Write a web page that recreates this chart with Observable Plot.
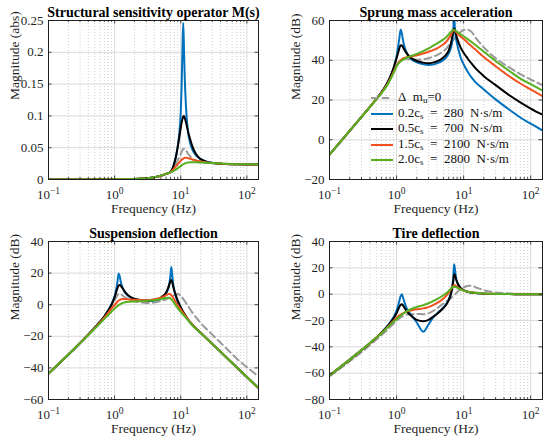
<!DOCTYPE html>
<html><head><meta charset="utf-8">
<script src="https://cdn.jsdelivr.net/npm/d3@7"></script>
<script src="https://cdn.jsdelivr.net/npm/@observablehq/plot@0.6"></script>
<style>
body{margin:0;background:#fff;}
#wrap{position:relative;width:550px;height:442px;overflow:hidden;font-family:"Liberation Serif","Times New Roman",serif;}
.panel{position:absolute;width:275px;height:221px;}
#legend{position:absolute;left:371px;top:89px;font-size:13px;color:#111;}
#legend .row{height:15.5px;line-height:15.5px;white-space:nowrap;}
#legend svg{vertical-align:middle;margin-right:5px;}
#legend sub{font-size:9px;vertical-align:-2px;line-height:0;}
</style></head>
<body><div id="wrap"></div>
<script>
// ---------- data ----------
const fM = [0.1, 1, 2, 3, 4, 5, 6, 7, 7.5, 8, 8.5, 9, 9.5, 10, 10.3, 10.6, 10.9, 11.2, 11.5, 12, 12.5, 13, 14, 15, 17, 20, 25, 30, 40, 50, 70, 100, 150];
const mDashed = [0, 0.0002, 0.0008, 0.0018, 0.0034, 0.0058, 0.0088, 0.0125, 0.016, 0.02, 0.025, 0.03, 0.035, 0.04, 0.043, 0.046, 0.048, 0.0485, 0.048, 0.046, 0.043, 0.04, 0.036, 0.033, 0.03, 0.028, 0.0265, 0.0255, 0.0245, 0.024, 0.0238, 0.0236, 0.0236];
const mBlue = [0, 0.0002, 0.0008, 0.0018, 0.0034, 0.0058, 0.0088, 0.012, 0.017, 0.026, 0.037, 0.052, 0.072, 0.105, 0.145, 0.2, 0.246, 0.205, 0.16, 0.115, 0.088, 0.072, 0.056, 0.047, 0.038, 0.032, 0.028, 0.026, 0.0248, 0.0243, 0.024, 0.0237, 0.0236];
const mBlack = [0, 0.0002, 0.0008, 0.0018, 0.0034, 0.0058, 0.0088, 0.012, 0.017, 0.026, 0.037, 0.051, 0.066, 0.081, 0.089, 0.095, 0.099, 0.1, 0.097, 0.09, 0.082, 0.074, 0.062, 0.052, 0.04, 0.032, 0.0275, 0.026, 0.0248, 0.0243, 0.024, 0.0237, 0.0236];
const mRed = [0, 0.0002, 0.0008, 0.0018, 0.0034, 0.0058, 0.0088, 0.0115, 0.0145, 0.018, 0.021, 0.024, 0.027, 0.0295, 0.031, 0.032, 0.033, 0.0337, 0.034, 0.0342, 0.034, 0.0335, 0.0325, 0.0315, 0.0298, 0.0283, 0.0268, 0.026, 0.025, 0.0245, 0.024, 0.0237, 0.0236];
const mGreen = [0, 0.0002, 0.0009, 0.002, 0.0037, 0.0063, 0.0088, 0.0112, 0.0125, 0.0142, 0.016, 0.0178, 0.0195, 0.0212, 0.0222, 0.0232, 0.024, 0.0247, 0.0252, 0.026, 0.0265, 0.0268, 0.0272, 0.0273, 0.0271, 0.0267, 0.0262, 0.0258, 0.0252, 0.0247, 0.0241, 0.0238, 0.0236];

const freq = [0.1, 0.3, 0.5, 0.6, 0.7, 0.8, 0.9, 1.0, 1.05, 1.1, 1.15, 1.2, 1.25, 1.3, 1.4, 1.5, 1.7, 2.0, 2.5, 3.0, 3.5, 4.0, 5.0, 5.5, 6.0, 6.5, 6.8, 7.0, 7.2, 7.4, 7.7, 8.0, 8.5, 9, 10, 11, 12, 13, 15, 20, 30, 50, 70, 100, 150];

const accDashed = [-7.5, 11.5, 20.5, 24, 27.3, 30.7, 34, 37, 38.3, 39.3, 40, 40.5, 40.7, 40.8, 40.7, 40.6, 40.4, 40.3, 40.5, 41, 41.8, 42.6, 44.6, 45.8, 47.5, 49, 49.8, 50.3, 50.8, 51.2, 51.9, 52.5, 53.4, 54.2, 55.2, 55.5, 55.2, 54.4, 51.5, 46.5, 41, 36, 33, 30.3, 27.5];
const accBlue = [-7.5, 11.5, 20.5, 24, 27.5, 31.5, 36, 42, 46.5, 51, 55.3, 53.5, 50, 47.3, 44.2, 42.3, 40.3, 39, 38, 37.6, 37.8, 38.4, 40.2, 41.5, 43.5, 46.5, 50, 54.5, 63, 56, 51, 48.2, 44.5, 41.5, 38, 35.3, 33.2, 31.5, 29, 25.3, 20.3, 14.7, 11.2, 8.1, 4.7];
const accBlack = [-7.5, 11.5, 20.5, 24, 27.5, 31.5, 36, 41, 43.5, 46, 47.5, 47.4, 46.5, 45.4, 43.7, 42.4, 40.8, 39.6, 38.8, 38.5, 38.8, 39.4, 41.4, 42.9, 45, 48.8, 52.3, 54.7, 56, 55.3, 53, 51, 48.5, 46.5, 43.8, 41.8, 40, 38.5, 36, 32, 27.5, 22, 18.8, 15.7, 12.6];
const accRed = [-7.5, 11.5, 20.5, 23.8, 27, 30.5, 34, 37.3, 38.4, 39.3, 40, 40.5, 40.9, 41.2, 41.5, 41.7, 42, 42.5, 43.4, 44.3, 45.1, 46, 48, 49.3, 51, 53, 54.3, 55, 55.2, 55, 54.3, 53.6, 52.7, 52, 50.7, 49.4, 48.2, 47.2, 45.4, 41.6, 37, 31.5, 28.3, 25.3, 21.9];
const accGreen = [-7.5, 11.5, 20.3, 23.5, 26.6, 30, 33.5, 37, 38, 38.8, 39.4, 39.9, 40.3, 40.7, 41.2, 41.6, 42.3, 43.2, 44.6, 46, 47.3, 48.4, 50.5, 51.6, 53, 54.4, 55.1, 55.4, 55.3, 55.1, 54.7, 54.3, 53.7, 53.1, 52.1, 51.1, 50.2, 49.3, 47.7, 44.3, 39.6, 34.2, 30.8, 28, 24.8];

const susDashed = [-43.5, -24.5, -14.8, -11, -7.6, -4.2, -0.8, 2.6, 4.5, 6, 6.8, 7, 6.6, 6, 5, 4.2, 3.2, 2.2, 1.4, 1.1, 1.1, 1.4, 2.3, 2.8, 3.4, 4, 4.4, 4.7, 5, 5.3, 5.7, 6.1, 6.5, 6.8, 5.6, 3.4, 1.1, -1, -5, -11.5, -19, -28, -34, -39.5, -45.4];
const susBlue = [-43.5, -24.2, -14.5, -10.8, -7.3, -3.5, 0.5, 5.5, 9, 14, 19.8, 17.5, 13.8, 11.5, 8.5, 6.7, 4.8, 3.5, 2.7, 2.4, 2.4, 2.6, 3.7, 4.8, 6.8, 10.5, 14.5, 19, 23.8, 19.5, 13, 9, 4.5, 1.5, -2.5, -5.5, -7.8, -9.8, -12.8, -17.8, -24.8, -33.7, -39.6, -45.8, -52.8];
const susBlack = [-43.5, -24.2, -14.5, -10.8, -7.3, -3.7, 0, 4.8, 7.5, 10.3, 12.2, 12.5, 11.8, 10.8, 8.8, 7.2, 5.2, 3.8, 2.9, 2.6, 2.7, 3, 4.5, 5.8, 7.8, 11, 13.5, 15, 15.7, 14.5, 11.5, 8.8, 5.5, 2.8, -1.5, -4.8, -7.3, -9.5, -12.6, -17.8, -24.8, -33.7, -39.6, -45.8, -52.8];
const susRed = [-43.5, -24.3, -14.8, -11.2, -8, -5, -2.4, -0.2, 0.9, 1.8, 2.6, 3.1, 3.4, 3.6, 3.6, 3.5, 3.3, 3.1, 2.9, 2.8, 3, 3.4, 4.4, 5.1, 6, 6.7, 6.8, 6.6, 6.1, 5.5, 4.4, 3.2, 1.3, -0.4, -3.1, -5.5, -7.6, -9.6, -12.7, -17.8, -24.8, -33.7, -39.6, -45.8, -52.8];
const susGreen = [-43.5, -24.4, -15.2, -11.8, -9, -6.5, -4.3, -2.5, -1.6, -0.9, -0.3, 0.2, 0.6, 1, 1.4, 1.7, 1.9, 2, 2.2, 2.4, 2.6, 2.9, 3.5, 3.9, 4.3, 4.4, 4.2, 3.9, 3.4, 2.9, 1.9, 0.9, -0.8, -2.2, -4.5, -6.5, -8.3, -10, -13, -17.9, -24.8, -33.7, -39.6, -45.8, -52.8];

const tirDashed = [-62.3, -44, -34.5, -31, -28, -25, -22.5, -20.3, -19.3, -18.4, -17.6, -17, -16.5, -16.1, -15.6, -15.3, -15.2, -15.1, -15.2, -14.6, -12.8, -10.8, -7.2, -5.7, -4.3, -2.9, -2.1, -1.5, -0.9, -0.3, 0.6, 1.5, 2.8, 3.8, 5.2, 6, 6.4, 6.4, 5.3, 3, 1.3, 0.5, 0.2, 0.1, 0];
const tirBlue = [-61.8, -42.5, -33, -29, -25.3, -21.5, -17.5, -12.5, -9, -5, -1.5, 0, -2.5, -5.5, -10.3, -13, -16.5, -21.5, -28.5, -23, -17.8, -14.8, -10, -7.5, -4, 1.5, 7, 12.5, 22.8, 19.5, 12.5, 9, 6, 4.3, 2.8, 2, 1.5, 1.2, 0.8, 0.4, 0.15, 0.05, 0, 0, 0];
const tirBlack = [-61.8, -42.5, -33, -29, -25.5, -22, -18.5, -14.5, -12, -9.7, -8, -7.6, -8.5, -10, -12.5, -14.5, -17, -19.5, -20.5, -19.5, -17.2, -15, -10.5, -8, -4.5, 0.5, 5, 9.5, 15.2, 14.5, 11.5, 9.2, 6.5, 4.8, 3, 2.1, 1.6, 1.2, 0.8, 0.4, 0.15, 0.05, 0, 0, 0];
const tirRed = [-61.8, -42.5, -33, -29.3, -26, -23, -20.3, -18, -17, -16.2, -15.5, -15, -14.5, -14, -13.3, -12.8, -12.2, -11.5, -10.8, -9.8, -8.3, -6.8, -3.3, -1.2, 1.2, 4, 5.5, 6.3, 6.8, 6.8, 6.3, 5.6, 4.6, 3.8, 2.8, 2.1, 1.7, 1.4, 1, 0.5, 0.2, 0.05, 0, 0, 0];
const tirGreen = [-61.8, -42.5, -33, -29.5, -26.3, -23.5, -21, -19, -18, -17.2, -16.4, -15.6, -14.9, -14.3, -13.2, -12.4, -11.1, -9.8, -8.3, -6.9, -5.3, -3.7, -0.8, 0.6, 2.4, 4.3, 5.2, 5.6, 5.7, 5.6, 5.3, 4.9, 4.2, 3.6, 2.7, 2.1, 1.7, 1.4, 1, 0.5, 0.2, 0.05, 0, 0, 0];

const xMajor = [0.1, 1, 10, 100];
const xMinor = [0.2, 0.3, 0.4, 0.5, 0.6, 0.7, 0.8, 0.9, 2, 3, 4, 5, 6, 7, 8, 9, 20, 30, 40, 50, 60, 70, 80, 90];
const yTicksM = [0, 0.05, 0.1, 0.15, 0.2, 0.25];
const yTicksA = [-20, 0, 20, 40, 60];
const yTicksS = [-60, -40, -20, 0, 20, 40];
const yTicksT = [-80, -60, -40, -20, 0, 20, 40];
const titles = ["Structural sensitivity operator M(s)", "Sprung mass acceleration", "Suspension deflection", "Tire deflection"];
const yLabels = ["Magnitude (abs)", "Magnitude (dB)", "Magnitude (dB)", "Magnitude (dB)"];
const legendLabels = ["Δ&nbsp;&nbsp;m<sub>u</sub>=0", "0.2c<sub>s</sub>&nbsp;&nbsp;=&nbsp;&nbsp;280&nbsp;&nbsp;N·s/m", "0.5c<sub>s</sub>&nbsp;&nbsp;=&nbsp;&nbsp;700&nbsp;&nbsp;N·s/m", "1.5c<sub>s</sub>&nbsp;&nbsp;=&nbsp;&nbsp;2100&nbsp;&nbsp;N·s/m", "2.0c<sub>s</sub>&nbsp;&nbsp;=&nbsp;&nbsp;2800&nbsp;&nbsp;N·s/m"];

// ---------- drawing ----------
const FONT = '"Liberation Serif","Times New Roman",serif';
const INK = "#1f1f1f";
const keys = ["dashed", "blue", "black", "red", "green"];
const colors = {dashed: "#9a9a9a", blue: "#0072BD", black: "#000000", red: "#F2501E", green: "#55B020"};
const dash = "7,4";
const fmtY = d => d < 0 ? "\u2212" + (-d) : String(d);

function lineMarks(fx, sets) {
  return keys.map((k, j) => {
    const rows = fx.map((f, i) => ({f, v: sets[j][i]}));
    const opts = {x: "f", y: "v", stroke: colors[k], strokeWidth: 2, curve: "monotone-x", clip: true};
    if (k === "dashed") opts.strokeDasharray = dash;
    return Plot.line(rows, opts);
  });
}

function panel(idx, left, top, ml, mr, mb, yDomain, yTicks, fx, sets, ylDx) {
  const W = 275, H = 221, MT = 20;
  const fw = W - ml - mr, fh = H - MT - mb;
  const tick = {stroke: INK, strokeWidth: 0.8};
  const svg = Plot.plot({
    width: W, height: H, marginLeft: ml, marginRight: mr, marginTop: MT, marginBottom: mb,
    style: `font-family: ${FONT}; font-size: 13px; overflow: visible; background: transparent;`,
    x: {type: "log", domain: [0.1, 150]},
    y: {domain: yDomain},
    marks: [
      Plot.ruleX(xMinor, {stroke: "#c4c4c4", strokeDasharray: "1,2", strokeWidth: 0.8}),
      Plot.ruleX(xMajor, {stroke: "#dadada"}),
      Plot.ruleY(yTicks, {stroke: "#dadada"}),
      ...lineMarks(fx, sets),
      // inward box ticks
      Plot.ruleX(xMajor, {...tick, insetTop: fh - 3.5}),
      Plot.ruleX(xMajor, {...tick, insetBottom: fh - 3.5}),
      Plot.ruleX(xMinor, {...tick, insetTop: fh - 2}),
      Plot.ruleX(xMinor, {...tick, insetBottom: fh - 2}),
      Plot.ruleY(yTicks, {...tick, insetRight: fw - 3.5}),
      Plot.ruleY(yTicks, {...tick, insetLeft: fw - 3.5}),
      Plot.frame({stroke: INK}),
      Plot.axisX(xMajor, {tickSize: 0, tickPadding: 10, tickFormat: d => "10^" + Math.round(Math.log10(d)), label: null, fontSize: 13, fontFamily: FONT, fill: INK}),
      Plot.axisY(yTicks, {tickSize: 0, tickPadding: 5, tickFormat: fmtY, label: null, fontSize: 13, fontFamily: FONT, fill: INK}),
      Plot.text([titles[idx]], {text: d => d, frameAnchor: "top", dy: -4, lineAnchor: "bottom", fontWeight: "bold", fontSize: 14, fontFamily: FONT, fill: "#000"}),
      Plot.text([yLabels[idx]], {text: d => d, frameAnchor: "left", dx: ylDx, rotate: -90, lineAnchor: "middle", fontSize: 13.5, fontFamily: FONT, fill: INK}),
      Plot.text(["Frequency (Hz)"], {text: d => d, frameAnchor: "bottom", dy: 29, lineAnchor: "middle", fontSize: 13.5, fontFamily: FONT, fill: INK})
    ]
  });
  svg.querySelectorAll('g[aria-label="x-axis tick label"] text').forEach(t => {
    const e = t.textContent.split("^")[1].replace("-", "\u2212");
    t.textContent = "10";
    const ts = document.createElementNS("http://www.w3.org/2000/svg", "tspan");
    ts.setAttribute("dy", "-0.45em");
    ts.setAttribute("font-size", "9.5");
    ts.textContent = e;
    t.appendChild(ts);
  });
  const div = document.createElement("div");
  div.className = "panel";
  div.style.left = left + "px";
  div.style.top = top + "px";
  div.appendChild(svg);
  document.getElementById("wrap").appendChild(div);
}

panel(0, 0, 0, 48, 17, 42, [0, 0.25], yTicksM, fM, [mDashed, mBlue, mBlack, mRed, mGreen], -34);
panel(1, 275, 0, 54, 8, 42, [-20, 60], yTicksA, freq, [accDashed, accBlue, accBlack, accRed, accGreen], -34);
panel(2, 0, 221, 48, 17, 43, [-60, 40], yTicksS, freq, [susDashed, susBlue, susBlack, susRed, susGreen], -34);
panel(3, 275, 221, 54, 8, 43, [-80, 40], yTicksT, freq, [tirDashed, tirBlue, tirBlack, tirRed, tirGreen], -34);

// legend (sprung mass acceleration panel)
const lg = document.createElement("div");
lg.id = "legend";
keys.forEach((k, i) => {
  const row = document.createElement("div");
  row.className = "row";
  row.innerHTML = `<svg width="22" height="6"><line x1="0" x2="22" y1="3" y2="3" stroke="${colors[k]}" stroke-width="2" ${k === "dashed" ? `stroke-dasharray="${dash}"` : ""}/></svg><span>${legendLabels[i]}</span>`;
  lg.appendChild(row);
});
document.getElementById("wrap").appendChild(lg);
</script></body></html>
